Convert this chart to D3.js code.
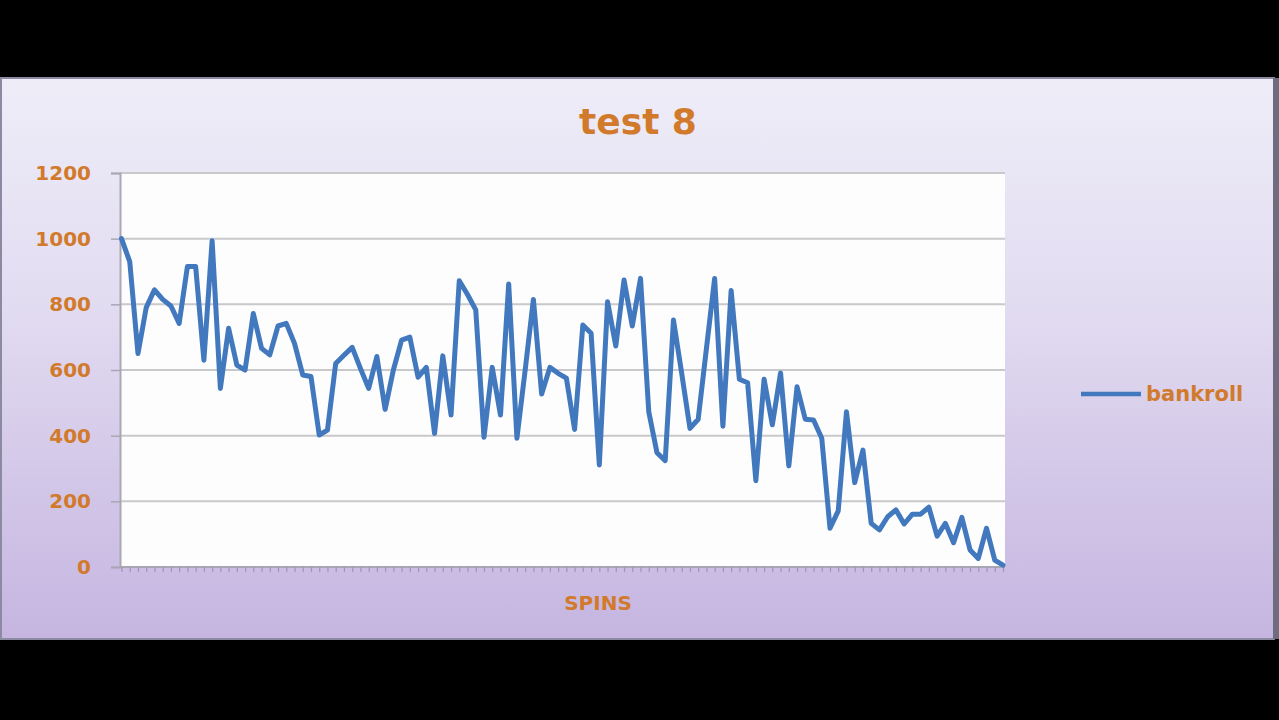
<!DOCTYPE html>
<html>
<head>
<meta charset="utf-8">
<script src="https://cdn.jsdelivr.net/npm/d3@7/dist/d3.min.js"></script>
<style>
  html, body { margin: 0; padding: 0; background: #000; }
  svg { display: block; }
</style>
</head>
<body>
<svg width="1279" height="720"></svg>
<script>
// bankroll after each spin
var bankroll = [
  1000, 930, 650, 790, 844, 815, 795, 742, 915, 915,
  630, 994, 544, 727, 615, 600, 772, 666, 646, 734,
  742, 681, 585, 580, 402, 417, 620, 645, 669, 605,
  544, 641, 480, 600, 691, 700, 578, 608, 407, 643,
  463, 872, 830, 783, 395, 608, 463, 862, 392, 600,
  815, 527, 608, 590, 575, 419, 737, 712, 311, 808,
  673, 874, 734, 879, 473, 348, 324, 752, 590, 422,
  450, 665, 879, 429, 842, 572, 561, 263, 572, 433,
  591, 308, 549, 450, 448, 392, 118, 171, 473, 257,
  356, 133, 113, 153, 174, 131, 161, 161, 182, 94,
  133, 74, 151, 52, 26, 118, 21, 6
];
var spins = bankroll.map(function(d, i) { return i + 1; });
var yTicks = [0, 200, 400, 600, 800, 1000, 1200];
var seriesName = "bankroll";
var chartTitle = "test 8";
var xTitle = "SPINS";

var svg = d3.select("svg");
var orange = "#D27A2C";
var blue = "#4178BE";

/* Achtergrond van de grafiek */
var defs = svg.append("defs");
var grad = defs.append("linearGradient")
    .attr("id", "bg").attr("x1", 0).attr("y1", 0).attr("x2", 0).attr("y2", 1);
grad.append("stop").attr("offset", "0%").attr("stop-color", "#EEEDF8");
grad.append("stop").attr("offset", "40%").attr("stop-color", "#E2DCF1");
grad.append("stop").attr("offset", "100%").attr("stop-color", "#C5B5E0");

svg.append("rect")
    .attr("x", 0).attr("y", 0).attr("width", 1279).attr("height", 720)
    .attr("fill", "#000");
svg.append("rect")
    .attr("x", 1).attr("y", 78).attr("width", 1273).attr("height", 561)
    .attr("fill", "url(#bg)")
    .attr("stroke", "#8C8AA0").attr("stroke-width", 2);
svg.append("rect")
    .attr("x", 1273).attr("y", 78).attr("width", 6).attr("height", 561)
    .attr("fill", "#6E6C7E");

var plot = {left: 120, right: 1005, top: 173, bottom: 567};

/* Schalen */
var x = d3.scalePoint()
    .domain(spins)
    .range([plot.left + 1.5, plot.right - 2]);

var y = d3.scaleLinear()
    .domain([0, 1200])
    .range([plot.bottom, plot.top]);

/* Wit plotgebied */
svg.append("rect")
    .attr("x", plot.left).attr("y", plot.top)
    .attr("width", plot.right - plot.left).attr("height", plot.bottom - plot.top)
    .attr("fill", "#FDFDFD");

/* Rasterlijnen */
svg.append("g")
  .selectAll("line")
  .data(yTicks.filter(function(d) { return d > 0; }))
  .enter().append("line")
    .attr("x1", plot.left).attr("x2", plot.right)
    .attr("y1", function(d) { return y(d); })
    .attr("y2", function(d) { return y(d); })
    .attr("stroke", "#C9C9CB").attr("stroke-width", 2);

/* y-as */
var yAxis = svg.append("g")
    .attr("transform", "translate(" + plot.left + ",0)")
    .call(d3.axisLeft(y).tickValues(yTicks).tickFormat(d3.format("d")).tickSize(9).tickPadding(20));
yAxis.select(".domain").attr("stroke", "#A9A7B4").attr("stroke-width", 2);
yAxis.selectAll(".tick line").attr("stroke", "#A9A7B4").attr("stroke-width", 1.5);
yAxis.selectAll(".tick text")
    .attr("fill", orange)
    .attr("font-family", "DejaVu Sans")
    .attr("font-weight", "bold")
    .attr("font-size", 20);

/* x-as */
var xAxis = svg.append("g")
    .attr("transform", "translate(0," + plot.bottom + ")")
    .call(d3.axisBottom(x).tickSize(5).tickFormat(""));
xAxis.select(".domain").attr("stroke", "#A9A7B4").attr("stroke-width", 2)
    .attr("d", "M" + plot.left + ",0H" + plot.right);
xAxis.selectAll(".tick line").attr("stroke", "#9C98B0").attr("stroke-width", 1.2);

/* De lijn */
var line = d3.line()
    .x(function(d, i) { return x(spins[i]); })
    .y(function(d) { return y(d); });

svg.append("path")
    .datum(bankroll)
    .attr("d", line)
    .attr("fill", "none")
    .attr("stroke", blue)
    .attr("stroke-width", 5)
    .attr("stroke-linejoin", "round")
    .attr("stroke-linecap", "round");

/* Titels */
svg.append("text")
    .attr("x", 638).attr("y", 134)
    .attr("text-anchor", "middle")
    .attr("fill", orange)
    .attr("font-family", "DejaVu Sans")
    .attr("font-weight", "bold")
    .attr("font-size", 36)
    .text(chartTitle);

svg.append("text")
    .attr("x", 598).attr("y", 610)
    .attr("text-anchor", "middle")
    .attr("fill", orange)
    .attr("font-family", "DejaVu Sans")
    .attr("font-weight", "bold")
    .attr("font-size", 20)
    .text(xTitle);

/* Legenda */
var legend = svg.append("g").attr("transform", "translate(1081,394)");
legend.append("line")
    .attr("x1", 0).attr("x2", 60).attr("y1", 0).attr("y2", 0)
    .attr("stroke", blue).attr("stroke-width", 4.5);
legend.append("text")
    .attr("x", 65).attr("y", 0).attr("dy", "0.35em")
    .attr("fill", orange)
    .attr("font-family", "DejaVu Sans")
    .attr("font-weight", "bold")
    .attr("font-size", 21)
    .text(seriesName);
</script>
</body>
</html>
